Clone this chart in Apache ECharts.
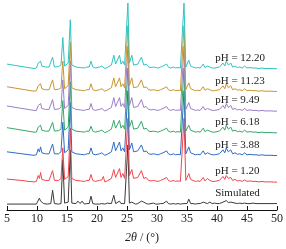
<!DOCTYPE html>
<html>
<head>
<meta charset="utf-8">
<script src="https://cdn.jsdelivr.net/npm/echarts@6/dist/echarts.min.js"></script>
<style>
html,body{margin:0;padding:0;background:#fff;}
#chart{width:286px;height:249px;}
</style>
</head>
<body>
<div id="chart"></div>
<script>
// 2θ sampling positions (degrees)
const twoTheta = [
5.0,5.5,6.0,6.5,7.0,7.5,8.0,8.5,9.0,9.5,
9.9,10.2,10.4,10.6,10.8,11.1,11.4,11.7,12.0,12.3,
12.6,12.9,13.2,13.6,14.0,14.3,14.6,14.9,15.2,15.55,
15.8,16.1,16.5,16.8,17.2,17.5,17.9,18.3,18.7,19.0,
19.3,19.7,20.0,20.4,20.8,21.05,21.3,21.7,22.0,22.4,
22.8,23.1,23.4,23.75,24.0,24.3,24.6,24.9,25.15,25.4,
25.8,26.1,26.4,26.8,27.1,27.4,27.8,28.2,28.6,29.0,
29.4,29.8,30.2,30.6,31.0,31.3,31.6,31.9,32.3,32.7,
33.1,33.5,33.9,34.2,34.5,34.8,35.0,35.3,35.6,36.0,
36.4,36.8,37.2,37.7,38.0,38.4,38.8,39.2,39.6,40.0,
40.4,40.7,41.0,41.3,41.55,41.9,42.3,42.6,43.0,43.4,
43.8,44.2,44.6,45.0,45.5,46.0,46.5,47.0,47.5,48.0,
48.5,49.0,49.5,50.0];

// intensities (a.u., above each trace's own baseline)
const simulated = [
0,0,0,0,0,0,0,0,0,0,
0,1,6,3,1,0.5,0,0,0,0.5,
14,0.5,0,0,0.5,45,1,0.5,2,55,
1,3,0.5,3,0.5,3,0,0.5,0.5,8,
0.5,0,0.5,0,0.5,2.5,0,1,2,0.5,
9,0.5,0.5,3,0.5,0.5,0.5,1,60,1,
2,0.5,0,0.5,0.5,3,2,0.5,0,0.5,
1,0,0,0.5,0.5,0.5,3,0.5,0,0.5,
0,0.5,0,0.5,0.5,1,0.5,5,0.5,0.5,
0,0.5,0.5,2,0.5,0.5,2,0.5,1,0.5,
0.5,1,2,1,3.5,1.5,2,0.5,1,0.5,
1,0.5,1,0.5,0.5,1,0.5,0.5,0.5,0.5,
0.5,0.5,0.5,0.5];

const ph120 = [
3.5,3,2.8,2.5,2.2,2,1.5,1,0.8,0.5,
1,7,4,10,3,5,2,4,2,3,
12,2,1.5,2,4,35,3,2,6,55,
4,3,2,3,1.5,3.5,1,2,2,8,
2,1,2.5,2,2.5,6,0.5,1.5,2,4,
13,5,7,14,5,9,4,6,65,7,
13,4,3,5,3,12,4,5,2,1.5,
2,1.5,1,2,3,2,5,2,1,2,
1,1.5,1,2,65,2,3,9,3,2,
1,1.5,1,5,1.5,4,2,1,1,1.5,
2,3,6,3,7,4,5,2,3,1.5,
2,1,2.5,1,1.5,1,1,0.5,1,0.5,
0.5,0.5,0.3,0.3];

const ph388 = [
4,3.6,3.2,2.8,2.4,2,1.6,1.2,0.8,0.5,
1,7,4,9,3,4,2,4,2,3,
12,2,1.5,2,4,34,3,2,6,54,
4,3,2,3,1.5,3,1,2,2,8,
2,1,2.5,2,3,5,0.5,1.5,2,4,
14,5,6,14,5,8,4,6,66,6,
13,4,3,5,3,11,4,5,2,1.5,
2,1.5,1,2,3,2,5,2,1,2,
1,1.5,1,2,66,2,3,9,3,2,
1,1.5,1,5,1.5,3,2,1,1,1.5,
2,3,6,3,8,4,6,2,3,1.5,
2,1,3,1,1.5,1,1,0.5,1,0.5,
0.5,0.5,0.3,0.3];

const ph618 = [
5.5,5,4.5,4,3.5,3,2.5,2,1.5,1,
1,6,4,8,3,4,2,4,2,3,
11,2,1.5,2.5,4,33,3,2,6,52,
4,3,2,3,1.5,3,1,2,2,7,
2,1,2.5,2,3,5,0.5,1.5,2,4,
13,5,6,13,5,8,4,6,66,6,
13,4,3,5,3,12,4,5,2,1.5,
2,1.5,1,2,3,2,5,2,1,2,
1,1.5,1,2,66,2,3,8,3,2,
1,1.5,1,5,1.5,3,2,1,1,1.5,
2,3,6,3,8,4,6,2,3,1.5,
2,1,3,1,1.5,1,1,0.5,1,0.5,
0.5,0.5,0.3,0.3];

const ph949 = [
5.5,5,4.5,4,3.5,3,2.5,2,1.5,1,
1,6,4,8,3,4,2,4,2,3,
12,2,1.5,2.5,4,32,3,2,6,51,
4,3,2,3,1.5,3,1,2,2,8,
2,1,2.5,2,3,5,0.5,1.5,2,4,
14,5,6,14,5,8,4,6,66,6,
14,4,3,5,3,12,4,5,2,1.5,
2,1.5,1,2,3,2,5,2,1,2,
1,1.5,1,2,66,2,3,9,3,2,
1,1.5,1,5,1.5,3,2,1,1,1.5,
2,3,6,3,8,4,6,2,3,1.5,
2,1,3,1,1.5,1,1,0.5,1,0.5,
0.5,0.5,0.3,0.3];

const ph1123 = [
5,4.5,4,3.5,3,2.5,2,1.5,1,0.5,
1,6,4,8,3,4,2,4,2,3,
12,2,1.5,2.5,4,31,3,2,6,50,
4,3,2,3,1.5,3,1,2,2,8,
2,1,2.5,2,3,5,0.5,1.5,2,4,
14,5,6,14,5,8,4,6,67,6,
14,4,3,5,3,12,4,5,2,1.5,
2,1.5,1,2,3,2,5,2,1,2,
1,1.5,1,2,67,2,3,9,3,2,
1,1.5,1,5,1.5,3,2,1,1,1.5,
2,3,6,3,8,4,6,2,3,1.5,
2,1,3,1,1.5,1,1,0.5,1,0.5,
0.5,0.5,0.3,0.3];

const ph1220 = [
5,4.5,4,3.5,3,2.5,2,1.5,1,0.5,
1,6,4,8,3,4,2,4,2,3,
12,2,1.5,2.5,4,32,3,2,6,50,
4,3,2,3,1.5,3,1,2,2,8,
2,1,2.5,2,3,5,0.5,1.5,2,4,
14,5,6,14,5,8,4,6,67,6,
14,4,3,5,3,12,4,5,2,1.5,
2,1.5,1,2,3,2,5,2,1,2,
1,1.5,1,2,67,2,3,9,3,2,
1,1.5,1,5,1.5,3,2,1,1,1.5,
2,3,6,3,8,4,6,2,3,1.5,
2,1,3,1,1.5,1,1,0.5,1,0.5,
0.5,0.5,0.3,0.3];

const seriesNames = ['Simulated','pH = 1.20','pH = 3.88','pH = 6.18','pH = 9.49','pH = 11.23','pH = 12.20'];
const seriesValues = [simulated, ph120, ph388, ph618, ph949, ph1123, ph1220];
const offsets = [6, 28, 55, 78, 100, 120, 143];
const colors = ['#3a3a3a','#f0464e','#2e6cc6','#34a86a','#9a7ec8','#c8962e','#2ec4c0'];
const xTicks = [5,10,15,20,25,30,35,40,45,50];

const chart = echarts.init(document.getElementById('chart'));
const FONT = '"Liberation Serif", "DejaVu Serif", serif';

const series = seriesValues.map((vals, i) => ({
  name: seriesNames[i],
  type: 'line',
  data: twoTheta.map((t, k) => [t, vals[k] + offsets[i]]),
  showSymbol: false,
  symbol: 'none',
  smooth: false,
  lineStyle: { color: colors[i], width: 1 },
  z: 2 + i,
  animation: false
}));

chart.setOption({
  animation: false,
  grid: { left: 7, right: 9, top: 0, bottom: 36, containLabel: false },
  xAxis: {
    type: 'value', min: xTicks[0], max: xTicks[xTicks.length-1], interval: 5,
    axisLine: { lineStyle: { color: '#111', width: 1 } },
    axisTick: { inside: true, length: 4, lineStyle: { color: '#111' } },
    splitLine: { show: false },
    axisLabel: { color: '#222', fontFamily: FONT, fontSize: 12, margin: 3 },
    name: '{i|2θ}{n| / (°)}',
    nameLocation: 'middle',
    nameGap: 22,
    nameTextStyle: {
      rich: {
        i: { fontFamily: FONT, fontSize: 12, fontStyle: 'italic', color: '#222' },
        n: { fontFamily: FONT, fontSize: 12, color: '#222' }
      }
    }
  },
  yAxis: { type: 'value', min: 0, max: 213, show: false },
  series: series
});

const graphics = seriesNames.map((nm, i) => {
  const p = chart.convertToPixel({ gridIndex: 0 }, [39.7, offsets[i] + 11]);
  return {
    type: 'text', x: p[0], y: p[1],
    style: { text: nm, fill: '#222', font: '11px ' + FONT, textAlign: 'left', textVerticalAlign: 'middle' },
    z: 100
  };
});
chart.setOption({ graphic: graphics });
</script>
</body>
</html>
